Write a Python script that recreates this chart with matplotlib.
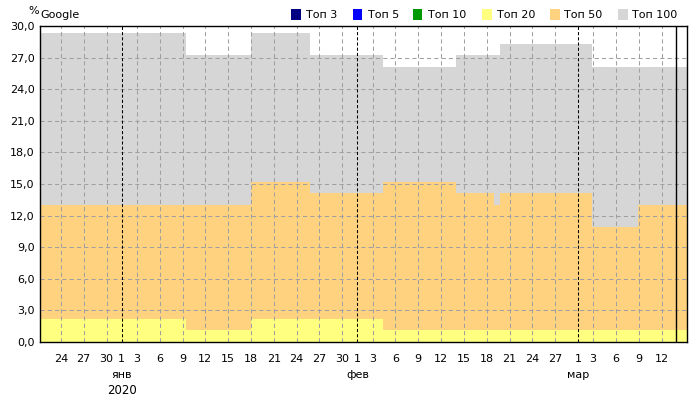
import matplotlib
matplotlib.use('Agg')
import matplotlib.pyplot as plt
from matplotlib.patches import Rectangle

plt.rcParams['font.family'] = ['DejaVu Sans']
plt.rcParams['font.size'] = 8

# x axis: days counted from 1 Jan 2020 (0 = 1 Jan)
edges = [-10.75, 8.46, 16.97, 24.7, 34.38, 43.99, 48.9, 49.78, 61.88, 67.9, 74.34]

# cumulative share (%) per segment
top20 = [2.2, 1.1, 2.2, 2.2, 1.1, 1.1, 1.1, 1.1, 1.1, 1.1]
top50 = [13.0, 13.0, 15.2, 14.1, 15.2, 14.1, 13.0, 14.1, 10.9, 13.0]
top100 = [29.3, 27.2, 29.3, 27.2, 26.1, 27.2, 27.2, 28.3, 26.1, 26.1]

tick_days = [-8, -5, -2, 0, 2, 5, 8, 11, 14, 17, 20, 23, 26, 29,
             31, 33, 36, 39, 42, 45, 48, 51, 54, 57, 60, 62, 65, 68, 71]
tick_labels = ['24', '27', '30', '1', '3', '6', '9', '12', '15', '18', '21', '24', '27', '30',
               '1', '3', '6', '9', '12', '15', '18', '21', '24', '27', '1', '3', '6', '9', '12']
month_days = [0, 31, 60]
month_names = ['янв', 'фев', 'мар']
year_label = '2020'
today = 72.9

legend_names = ['Топ 3', 'Топ 5', 'Топ 10', 'Топ 20', 'Топ 50', 'Топ 100']
legend_colors = ['#000080', '#0000ff', '#009900', '#ffff80', '#ffd280', '#d6d6d6']

W, H = 700, 400
fig = plt.figure(figsize=(7, 4), dpi=100)
ax = fig.add_axes([40 / W, 1 - 342 / H, (687 - 40) / W, (342 - 26) / H])

ax.stairs(top100, edges, baseline=0, fill=True, color='#d6d6d6', zorder=1)
ax.stairs(top50, edges, baseline=0, fill=True, color='#ffd280', zorder=1)
ax.stairs(top20, edges, baseline=0, fill=True, color='#ffff80', zorder=1)

for y in range(3, 30, 3):
    ax.axhline(y, color='#a0a0a0', lw=0.75, ls=(0, (4, 3)), zorder=2)
for d in tick_days:
    if d in month_days:
        ax.axvline(d, color='black', lw=0.75, ls=(0, (3, 2)), zorder=3)
    else:
        ax.axvline(d, color='#a0a0a0', lw=0.75, ls=(0, (4, 3)), zorder=2)
ax.axvline(today, color='black', lw=1, zorder=3)

ax.set_xlim(edges[0], edges[-1])
ax.set_ylim(0, 30)
ax.set_xticks(tick_days)
ax.set_xticklabels(tick_labels)
ax.set_yticks(range(0, 31, 3))
ax.set_yticklabels([('%.1f' % v).replace('.', ',') for v in range(0, 31, 3)])
ax.tick_params(axis='x', length=0, pad=9)
ax.tick_params(axis='y', length=0, pad=4)
for s in ax.spines.values():
    s.set_color('black')
    s.set_linewidth(1)
    s.set_zorder(4)

for d, name in zip(month_days, month_names):
    ax.annotate(name, xy=(d, 0), xycoords=('data', 'axes fraction'),
                xytext=(0, -24), textcoords='offset points', ha='center', va='center')
ax.annotate(year_label, xy=(month_days[0], 0), xycoords=('data', 'axes fraction'),
            xytext=(0, -35), textcoords='offset points', ha='center', va='center', fontsize=8.5)

fig.text(28 / W, 1 - 11 / H, '%', ha='left', va='center')
fig.text(40 / W, 1 - 15 / H, 'Google', ha='left', va='center')

sq_x = [291, 352.5, 412.5, 482, 549.5, 617.5]
for x, name, c in zip(sq_x, legend_names, legend_colors):
    fig.add_artist(Rectangle((x / W, 1 - 19.5 / H), 10 / W, 10 / H,
                             transform=fig.transFigure, facecolor=c, edgecolor='none'))
    fig.text((x + 15) / W, 1 - 14.5 / H, name, ha='left', va='center')

fig.savefig('out.png', dpi=100)
